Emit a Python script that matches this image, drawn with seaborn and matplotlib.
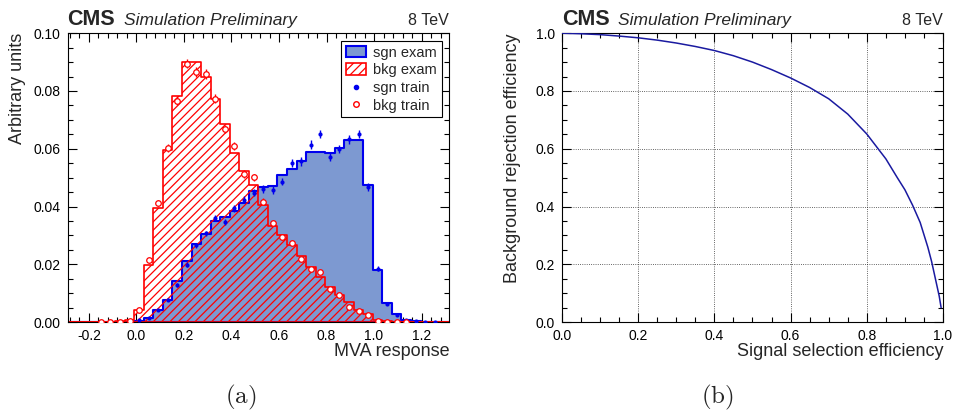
import numpy as np
import matplotlib
matplotlib.use("Agg")
import matplotlib.pyplot as plt
from matplotlib.patches import Patch
from matplotlib.lines import Line2D
from matplotlib.ticker import MultipleLocator, AutoMinorLocator, FormatStrFormatter
import seaborn as sns

# MVA response binning (TMVA default: 40 bins over the output range)
mva_min, mva_max, n_bins = -0.29, 1.316, 40

# (a) normalised MVA response, one value per bin
sgn_exam = [0.0, 0.0, 0.0, 0.0, 0.0, 0.0001, 0.0001, 0.0004, 0.0015, 0.0043,
            0.0078, 0.0142, 0.0211, 0.0270, 0.0305, 0.0350, 0.0365, 0.0384, 0.0411, 0.0453,
            0.0467, 0.0471, 0.0509, 0.0530, 0.0558, 0.0590, 0.0588, 0.0585, 0.0604, 0.0631,
            0.0631, 0.0476, 0.0181, 0.0066, 0.0027, 0.0008, 0.0005, 0.0002, 0.0001, 0.0]
bkg_exam = [0.0001, 0.0001, 0.0001, 0.0002, 0.0002, 0.0004, 0.0009, 0.0041, 0.0197, 0.0394,
            0.0594, 0.0784, 0.0899, 0.0899, 0.0850, 0.0773, 0.0685, 0.0587, 0.0523, 0.0475,
            0.0405, 0.0332, 0.0301, 0.0266, 0.0230, 0.0191, 0.0156, 0.0122, 0.0093, 0.0069,
            0.0043, 0.0029, 0.0008, 0.0003, 0.0002, 0.0001, 0.0001, 0.0, 0.0, 0.0]
sgn_train = [0.0, 0.0, 0.0, 0.0001, 0.0, 0.0001, 0.0001, 0.0008, 0.0015, 0.0043,
             0.0078, 0.0127, 0.0199, 0.0266, 0.0307, 0.0360, 0.0347, 0.0394, 0.0423, 0.0448,
             0.0460, 0.0457, 0.0486, 0.0550, 0.0556, 0.0614, 0.0651, 0.0571, 0.0599, 0.0633,
             0.0651, 0.0467, 0.0185, 0.0064, 0.0023, 0.0006, 0.0003, 0.0002, 0.0001, 0.0]
sgn_err = [0.0, 0.0, 0.0, 0.0001, 0.0, 0.0001, 0.0001, 0.0002, 0.0003, 0.0004,
           0.0005, 0.0007, 0.0008, 0.0009, 0.0010, 0.0011, 0.0011, 0.0012, 0.0012, 0.0013,
           0.0013, 0.0013, 0.0013, 0.0014, 0.0014, 0.0015, 0.0015, 0.0014, 0.0015, 0.0015,
           0.0015, 0.0013, 0.0008, 0.0005, 0.0003, 0.0001, 0.0001, 0.0001, 0.0001, 0.0]
bkg_train = [0.0, 0.0, 0.0, 0.0001, 0.0002, 0.0002, 0.0004, 0.0043, 0.0214, 0.0413,
             0.0602, 0.0767, 0.0895, 0.0866, 0.0859, 0.0773, 0.0668, 0.0610, 0.0513, 0.0501,
             0.0417, 0.0342, 0.0293, 0.0274, 0.0220, 0.0185, 0.0172, 0.0116, 0.0093, 0.0052,
             0.0038, 0.0023, 0.0003, 0.0002, 0.0001, 0.0001, 0.0, 0.0, 0.0, 0.0]
bkg_err = [0.0, 0.0, 0.0, 0.0001, 0.0001, 0.0001, 0.0002, 0.0004, 0.0008, 0.0011,
           0.0014, 0.0016, 0.0017, 0.0017, 0.0017, 0.0016, 0.0015, 0.0014, 0.0013, 0.0013,
           0.0012, 0.0011, 0.0010, 0.0009, 0.0008, 0.0008, 0.0007, 0.0006, 0.0005, 0.0004,
           0.0003, 0.0003, 0.0001, 0.0001, 0.0001, 0.0001, 0.0, 0.0, 0.0, 0.0]

# (b) ROC curve
sig_eff = [0.0, 0.05, 0.1, 0.15, 0.2, 0.25, 0.3, 0.35, 0.4, 0.45, 0.5, 0.55, 0.6,
           0.65, 0.7, 0.75, 0.8, 0.85, 0.88, 0.9, 0.92, 0.94, 0.96, 0.97, 0.98, 0.99, 0.995]
bkg_rej = [1.0, 0.998, 0.995, 0.990, 0.984, 0.976, 0.966, 0.954, 0.940, 0.922, 0.900, 0.874, 0.845,
           0.812, 0.773, 0.720, 0.651, 0.565, 0.500, 0.458, 0.405, 0.345, 0.260, 0.210, 0.150, 0.090, 0.050]

sgn_fill = '#7d99d1'
sgn_line = '#0000ee'
bkg_col = '#ff0000'
roc_col = '#1a1aa0'

sns.set_style('ticks')
plt.rcParams['font.family'] = ['Liberation Sans', 'DejaVu Sans']
plt.rcParams['axes.unicode_minus'] = False
plt.rcParams['mathtext.fontset'] = 'cm'
plt.rcParams['hatch.linewidth'] = 0.9

edges = np.linspace(mva_min, mva_max, n_bins + 1)
centres = 0.5 * (edges[:-1] + edges[1:])

fig = plt.figure(figsize=(9.54, 4.2), dpi=100)
ax1 = fig.add_axes([0.0708, 0.233, 0.400, 0.688])
ax2 = fig.add_axes([0.589, 0.233, 0.3995, 0.688])


def root_frame(ax, ymaj, ydiv, xdiv):
    ax.xaxis.set_major_locator(MultipleLocator(0.2))
    ax.xaxis.set_minor_locator(AutoMinorLocator(xdiv))
    ax.yaxis.set_major_locator(MultipleLocator(ymaj))
    ax.yaxis.set_minor_locator(AutoMinorLocator(ydiv))
    ax.tick_params(which='both', direction='in', top=True, right=True,
                   width=0.8, colors='black', labelsize=10)
    ax.tick_params(which='major', length=6.5, pad=5)
    ax.tick_params(which='minor', length=3.3)
    for s in ax.spines.values():
        s.set_visible(True)
        s.set_linewidth(0.8)
        s.set_color('black')
    ax.text(0, 1.028, 'CMS', transform=ax.transAxes, fontsize=15.5,
            fontweight='bold', va='baseline')
    ax.text(0.147, 1.028, 'Simulation Preliminary', transform=ax.transAxes,
            fontsize=12.5, style='italic', va='baseline')
    ax.text(1, 1.028, '8 TeV', transform=ax.transAxes, fontsize=11.5,
            ha='right', va='baseline')


# ---- (a) MVA response ----
sns.histplot(x=centres, weights=sgn_exam, bins=edges.tolist(), element='step', fill=True,
             alpha=1, color=sgn_fill, facecolor=sgn_fill, edgecolor=sgn_line, linewidth=1.5,
             ax=ax1, zorder=1)
sns.histplot(x=centres, weights=bkg_exam, bins=edges.tolist(), element='step', fill=True,
             alpha=1, color=bkg_col, facecolor='none', edgecolor=bkg_col, hatch='////',
             linewidth=1.2, ax=ax1, zorder=2)

sgn_train = np.array(sgn_train)
bkg_train = np.array(bkg_train)
ms = sgn_train > 0
mb = bkg_train > 0
ax1.errorbar(centres[ms], sgn_train[ms], yerr=np.array(sgn_err)[ms], fmt='none',
             ecolor=sgn_line, elinewidth=1, zorder=3)
ax1.errorbar(centres[mb], bkg_train[mb], yerr=np.array(bkg_err)[mb], fmt='none',
             ecolor=bkg_col, elinewidth=1, zorder=3)
sns.scatterplot(x=centres[ms], y=sgn_train[ms], color=sgn_line, s=9, linewidth=0,
                ax=ax1, zorder=4)
sns.scatterplot(x=centres[mb], y=bkg_train[mb], color=bkg_col, facecolor='white',
                edgecolor=bkg_col, s=16, linewidth=0.9, ax=ax1, zorder=4)

ax1.set_xlim(mva_min, mva_max)
ax1.set_ylim(0, 0.1)
root_frame(ax1, 0.02, 4, 5)
ax1.xaxis.set_major_formatter(FormatStrFormatter('%.1f'))
ax1.yaxis.set_major_formatter(FormatStrFormatter('%.2f'))
ax1.set_xlabel('MVA response', loc='right', fontsize=13)
ax1.set_ylabel('Arbitrary units', loc='top', fontsize=13)
ax1.xaxis.set_label_coords(1, -0.072)
ax1.yaxis.set_label_coords(-0.108, 1)

handles = [Patch(facecolor=sgn_fill, edgecolor=sgn_line, linewidth=1.5),
           Patch(facecolor='white', edgecolor=bkg_col, hatch='////', linewidth=1.2),
           Line2D([], [], marker='o', color=sgn_line, linestyle='none', markersize=3),
           Line2D([], [], marker='o', markerfacecolor='white', markeredgecolor=bkg_col,
                  linestyle='none', markersize=4)]
labels = ['sgn exam', 'bkg exam', 'sgn train', 'bkg train']
leg = ax1.legend(handles, labels, loc='upper right', bbox_to_anchor=(0.98, 0.972),
                 fontsize=10.5, frameon=True, fancybox=False, framealpha=1,
                 edgecolor='black', borderpad=0.3, labelspacing=0.25,
                 handlelength=1.4, handleheight=0.85, handletextpad=0.5, borderaxespad=0)
leg.get_frame().set_linewidth(0.8)

# ---- (b) ROC curve ----
sns.lineplot(x=sig_eff, y=bkg_rej, color=roc_col, linewidth=1.1, ax=ax2, zorder=3)
ax2.grid(True, which='major', linestyle=':', color='black', linewidth=0.6, alpha=0.8)
ax2.set_xlim(0, 1)
ax2.set_ylim(0, 1)
root_frame(ax2, 0.2, 4, 4)
ax2.xaxis.set_major_formatter(FormatStrFormatter('%.1f'))
ax2.yaxis.set_major_formatter(FormatStrFormatter('%.1f'))
ax2.set_xlabel('Signal selection efficiency', loc='right', fontsize=13)
ax2.set_ylabel('Background rejection efficiency', loc='top', fontsize=13)
ax2.xaxis.set_label_coords(1, -0.072)
ax2.yaxis.set_label_coords(-0.108, 1)

fig.text(241 / 954, 1 - 397 / 420, r'$(\mathrm{a})$', ha='center', va='center', fontsize=18)
fig.text(717 / 954, 1 - 397 / 420, r'$(\mathrm{b})$', ha='center', va='center', fontsize=18)

fig.savefig('out.png', dpi=100)
